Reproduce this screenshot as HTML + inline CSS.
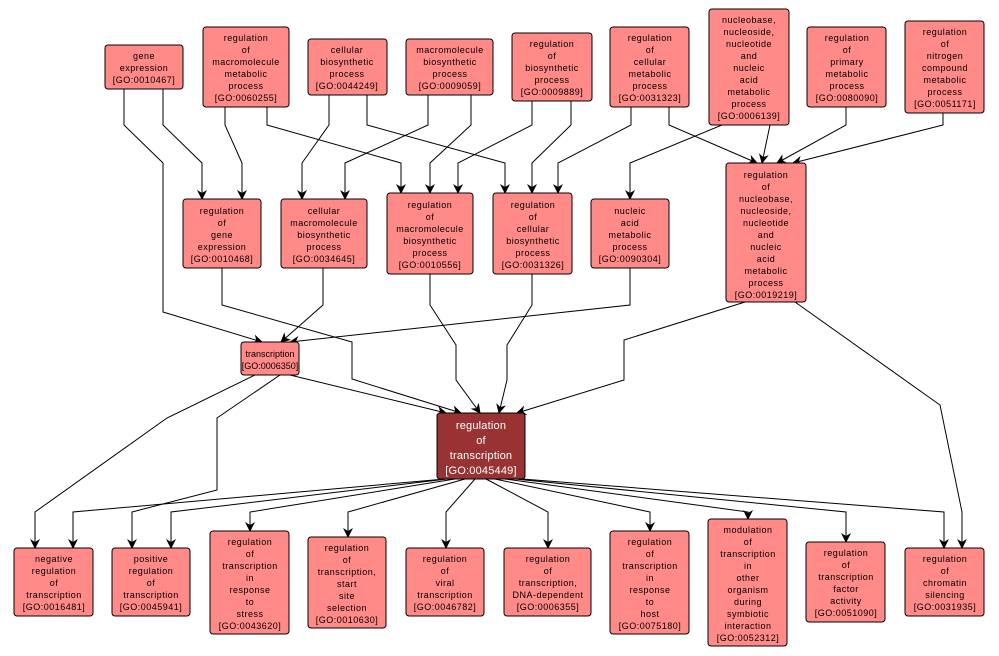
<!DOCTYPE html>
<html><head><meta charset="utf-8"><style>
html,body{margin:0;padding:0;background:#fff;}
svg{display:block;}
text{font-family:"Liberation Sans",sans-serif;font-size:9px;fill:#000;text-anchor:middle;letter-spacing:0.5px;}
.d text{fill:#fff;font-size:11px;letter-spacing:0.2px;}
.t text{letter-spacing:0;}
rect{fill:#ff8a87;stroke:#000;stroke-width:1;}
.d rect{fill:#993333;}
polyline{fill:none;stroke:#000;stroke-width:1;}
</style></head><body>
<svg width="999" height="656" viewBox="0 0 999 656" xmlns="http://www.w3.org/2000/svg">
<defs><marker id="a" markerWidth="10" markerHeight="10" refX="9" refY="5" orient="auto" markerUnits="userSpaceOnUse"><path d="M0,0 L10,5 L0,10 L3,5 Z" fill="#000"/></marker></defs>
<g marker-end="url(#a)">
<polyline points="124,89 124,125 163,163 163,312 262,342"/>
<polyline points="163,89 163,125 202,163 202,199"/>
<polyline points="225,107 225,125 242,163 242,199"/>
<polyline points="267,107 267,125 401,163 401,193"/>
<polyline points="329,95 329,125 302,163 302,199"/>
<polyline points="367,95 367,125 505,163 505,193"/>
<polyline points="428,95 428,125 345,163 345,199"/>
<polyline points="471,95 471,125 430,163 430,193"/>
<polyline points="532,101 532,125 458,163 458,193"/>
<polyline points="571,101 571,125 532,163 532,193"/>
<polyline points="631,107 631,125 558,163 558,193"/>
<polyline points="669,107 669,125 757,163"/>
<polyline points="722,125 630,163 630,199"/>
<polyline points="770,125 762,163"/>
<polyline points="846,107 846,125 777,163"/>
<polyline points="943,113 943,125 793,163"/>
<polyline points="222,268 222,305 352,342 352,379 461,413"/>
<polyline points="323,268 323,305 281,342"/>
<polyline points="430,274 430,305 456,345 456,380 480,413"/>
<polyline points="532,274 532,305 507,345 507,380 499,413"/>
<polyline points="630,268 630,305 290,342"/>
<polyline points="745,302 624,340 624,380 517,413"/>
<polyline points="795,302 940,405 962,512 962,548"/>
<polyline points="255,375 167,418 35,512 35,548"/>
<polyline points="280,375 217,418 217,490 132,512 132,548"/>
<polyline points="290,375 446,413"/>
<polyline points="445,479 73,512 73,548"/>
<polyline points="447,479 171,512 171,548"/>
<polyline points="455,479 250,512 250,531"/>
<polyline points="465,479 348,512 348,537"/>
<polyline points="475,479 446,512 446,548"/>
<polyline points="486,479 548,512 548,548"/>
<polyline points="495,479 650,512 650,531"/>
<polyline points="505,479 748,512 748,519"/>
<polyline points="515,479 846,512 846,542"/>
<polyline points="522,479 944,512 944,548"/>
</g>
<g>
<rect x="105" y="45" width="78" height="44" rx="3"/><text x="144" y="59">gene</text><text x="144" y="71">expression</text><text x="144" y="83">[GO:0010467]</text>
<rect x="203" y="27" width="86" height="80" rx="3"/><text x="246" y="41">regulation</text><text x="246" y="53">of</text><text x="246" y="65">macromolecule</text><text x="246" y="77">metabolic</text><text x="246" y="89">process</text><text x="246" y="101">[GO:0060255]</text>
<rect x="308" y="39" width="79" height="56" rx="3"/><text x="347" y="53">cellular</text><text x="347" y="65">biosynthetic</text><text x="347" y="77">process</text><text x="347" y="89">[GO:0044249]</text>
<rect x="406" y="39" width="87" height="56" rx="3"/><text x="450" y="53">macromolecule</text><text x="450" y="65">biosynthetic</text><text x="450" y="77">process</text><text x="450" y="89">[GO:0009059]</text>
<rect x="512" y="33" width="80" height="68" rx="3"/><text x="552" y="47">regulation</text><text x="552" y="59">of</text><text x="552" y="71">biosynthetic</text><text x="552" y="83">process</text><text x="552" y="95">[GO:0009889]</text>
<rect x="610" y="27" width="79" height="80" rx="3"/><text x="650" y="41">regulation</text><text x="650" y="53">of</text><text x="650" y="65">cellular</text><text x="650" y="77">metabolic</text><text x="650" y="89">process</text><text x="650" y="101">[GO:0031323]</text>
<rect x="709" y="9" width="80" height="116" rx="3"/><text x="749" y="23">nucleobase,</text><text x="749" y="35">nucleoside,</text><text x="749" y="47">nucleotide</text><text x="749" y="59">and</text><text x="749" y="71">nucleic</text><text x="749" y="83">acid</text><text x="749" y="95">metabolic</text><text x="749" y="107">process</text><text x="749" y="119">[GO:0006139]</text>
<rect x="807" y="27" width="79" height="80" rx="3"/><text x="847" y="41">regulation</text><text x="847" y="53">of</text><text x="847" y="65">primary</text><text x="847" y="77">metabolic</text><text x="847" y="89">process</text><text x="847" y="101">[GO:0080090]</text>
<rect x="905" y="21" width="79" height="92" rx="3"/><text x="945" y="35">regulation</text><text x="945" y="47">of</text><text x="945" y="59">nitrogen</text><text x="945" y="71">compound</text><text x="945" y="83">metabolic</text><text x="945" y="95">process</text><text x="945" y="107">[GO:0051171]</text>

<rect x="183" y="199" width="78" height="69" rx="3"/><text x="222" y="214">regulation</text><text x="222" y="226">of</text><text x="222" y="238">gene</text><text x="222" y="250">expression</text><text x="222" y="262">[GO:0010468]</text>
<rect x="281" y="199" width="86" height="69" rx="3"/><text x="324" y="214">cellular</text><text x="324" y="226">macromolecule</text><text x="324" y="238">biosynthetic</text><text x="324" y="250">process</text><text x="324" y="262">[GO:0034645]</text>
<rect x="387" y="193" width="86" height="81" rx="3"/><text x="430" y="208">regulation</text><text x="430" y="220">of</text><text x="430" y="232">macromolecule</text><text x="430" y="244">biosynthetic</text><text x="430" y="256">process</text><text x="430" y="268">[GO:0010556]</text>
<rect x="493" y="193" width="79" height="81" rx="3"/><text x="533" y="208">regulation</text><text x="533" y="220">of</text><text x="533" y="232">cellular</text><text x="533" y="244">biosynthetic</text><text x="533" y="256">process</text><text x="533" y="268">[GO:0031326]</text>
<rect x="591" y="199" width="78" height="69" rx="3"/><text x="630" y="214">nucleic</text><text x="630" y="226">acid</text><text x="630" y="238">metabolic</text><text x="630" y="250">process</text><text x="630" y="262">[GO:0090304]</text>
<rect x="726" y="163" width="80" height="139" rx="3"/><text x="766" y="178">regulation</text><text x="766" y="190">of</text><text x="766" y="202">nucleobase,</text><text x="766" y="214">nucleoside,</text><text x="766" y="226">nucleotide</text><text x="766" y="238">and</text><text x="766" y="250">nucleic</text><text x="766" y="262">acid</text><text x="766" y="274">metabolic</text><text x="766" y="286">process</text><text x="766" y="298">[GO:0019219]</text>

<g class="t"><rect x="241" y="342" width="58" height="33" rx="3"/><text x="270" y="357">transcription</text><text x="270" y="369">[GO:0006350]</text></g>
<g class="d"><rect x="437" y="413" width="88" height="66" rx="3"/><text x="481" y="429">regulation</text><text x="481" y="444">of</text><text x="481" y="459">transcription</text><text x="481" y="474">[GO:0045449]</text></g>

<rect x="14" y="548" width="79" height="68" rx="3"/><text x="54" y="562">negative</text><text x="54" y="574">regulation</text><text x="54" y="586">of</text><text x="54" y="598">transcription</text><text x="54" y="610">[GO:0016481]</text>
<rect x="112" y="548" width="78" height="68" rx="3"/><text x="151" y="562">positive</text><text x="151" y="574">regulation</text><text x="151" y="586">of</text><text x="151" y="598">transcription</text><text x="151" y="610">[GO:0045941]</text>
<rect x="210" y="531" width="79" height="103" rx="3"/><text x="250" y="545">regulation</text><text x="250" y="557">of</text><text x="250" y="569">transcription</text><text x="250" y="581">in</text><text x="250" y="593">response</text><text x="250" y="605">to</text><text x="250" y="617">stress</text><text x="250" y="629">[GO:0043620]</text>
<rect x="308" y="537" width="78" height="91" rx="3"/><text x="347" y="551">regulation</text><text x="347" y="563">of</text><text x="347" y="575">transcription,</text><text x="347" y="587">start</text><text x="347" y="599">site</text><text x="347" y="611">selection</text><text x="347" y="623">[GO:0010630]</text>
<rect x="406" y="548" width="78" height="68" rx="3"/><text x="445" y="562">regulation</text><text x="445" y="574">of</text><text x="445" y="586">viral</text><text x="445" y="598">transcription</text><text x="445" y="610">[GO:0046782]</text>
<rect x="504" y="548" width="87" height="68" rx="3"/><text x="548" y="562">regulation</text><text x="548" y="574">of</text><text x="548" y="586">transcription,</text><text x="548" y="598">DNA-dependent</text><text x="548" y="610">[GO:0006355]</text>
<rect x="610" y="531" width="79" height="103" rx="3"/><text x="650" y="545">regulation</text><text x="650" y="557">of</text><text x="650" y="569">transcription</text><text x="650" y="581">in</text><text x="650" y="593">response</text><text x="650" y="605">to</text><text x="650" y="617">host</text><text x="650" y="629">[GO:0075180]</text>
<rect x="708" y="519" width="79" height="127" rx="3"/><text x="748" y="533">modulation</text><text x="748" y="545">of</text><text x="748" y="557">transcription</text><text x="748" y="569">in</text><text x="748" y="581">other</text><text x="748" y="593">organism</text><text x="748" y="605">during</text><text x="748" y="617">symbiotic</text><text x="748" y="629">interaction</text><text x="748" y="641">[GO:0052312]</text>
<rect x="806" y="542" width="79" height="80" rx="3"/><text x="846" y="556">regulation</text><text x="846" y="568">of</text><text x="846" y="580">transcription</text><text x="846" y="592">factor</text><text x="846" y="604">activity</text><text x="846" y="616">[GO:0051090]</text>
<rect x="905" y="548" width="79" height="68" rx="3"/><text x="945" y="562">regulation</text><text x="945" y="574">of</text><text x="945" y="586">chromatin</text><text x="945" y="598">silencing</text><text x="945" y="610">[GO:0031935]</text>
</g>
</svg>
</body></html>
